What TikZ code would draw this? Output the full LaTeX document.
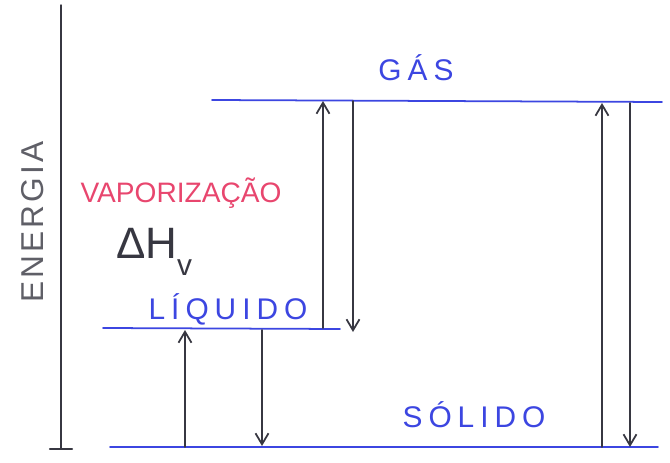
\documentclass[tikz,border=0pt]{standalone}
\usepackage{fontspec}
\setmainfont{Liberation Sans}
\usetikzlibrary{arrows.meta}
\definecolor{nivel}{RGB}{60,70,225}
\definecolor{seta}{RGB}{55,55,65}
\definecolor{rosa}{RGB}{232,70,110}
\begin{document}
\begin{tikzpicture}[x=0.02cm,y=-0.02cm,>={Straight Barb[length=2.2mm,width=2.6mm]},line cap=round,
	level/.style={nivel,line width=1pt},
	arr/.style={seta,line width=1pt,->},
	lbl/.style={nivel,font=\fontsize{17}{19}\selectfont\addfontfeature{LetterSpace=20}}]
	\useasboundingbox (0,0) rectangle (670,463);
	\path
	(61,5) coordinate (E1) (61,449) coordinate (E2)
	(50,449) coordinate (T1) (72,449) coordinate (T2)
	(212,100) coordinate (G1) (662,102) coordinate (G2)
	(103,328) coordinate (L1) (340,329) coordinate (L2)
	(110,447) coordinate (S1) (658,447) coordinate (S2)
	;
	\draw[seta,line width=0.8pt] (E1)--(E2);
	\draw[seta,line width=1.4pt] (T1)--(T2);
	\draw[level] (G1)--(G2) (L1)--(L2) (S1)--(S2);
	\foreach \n/\x/\a/\b in {vap/323/328/101,con/353/101/332,fus/185/447/330,
		sol/262/330/446,sub/602/447/103,dep/630/103/447}
	\draw[arr] (\x,\a) coordinate (\n1)--(\x,\b) coordinate (\n2);
	\node[lbl] (gas) at (416,68) {GÁS};
	\node[lbl] (liq) at (228,309) {LÍQUIDO};
	\node[lbl] (sld) at (474,415) {SÓLIDO};
	\node[rosa,font=\fontsize{16}{18}\selectfont] (vapor) at (181,193) {VAPORIZAÇÃO};
	\node[seta,font=\fontsize{25}{27}\selectfont] (dh) at (154,252) {ΔH\lower0.7ex\hbox{\fontsize{17}{17}\selectfont v}};
	\node[seta!80,rotate=90,font=\fontsize{18}{20}\selectfont\addfontfeature{LetterSpace=10}] (en) at (33,222) {ENERGIA};
\end{tikzpicture}
\end{document}
